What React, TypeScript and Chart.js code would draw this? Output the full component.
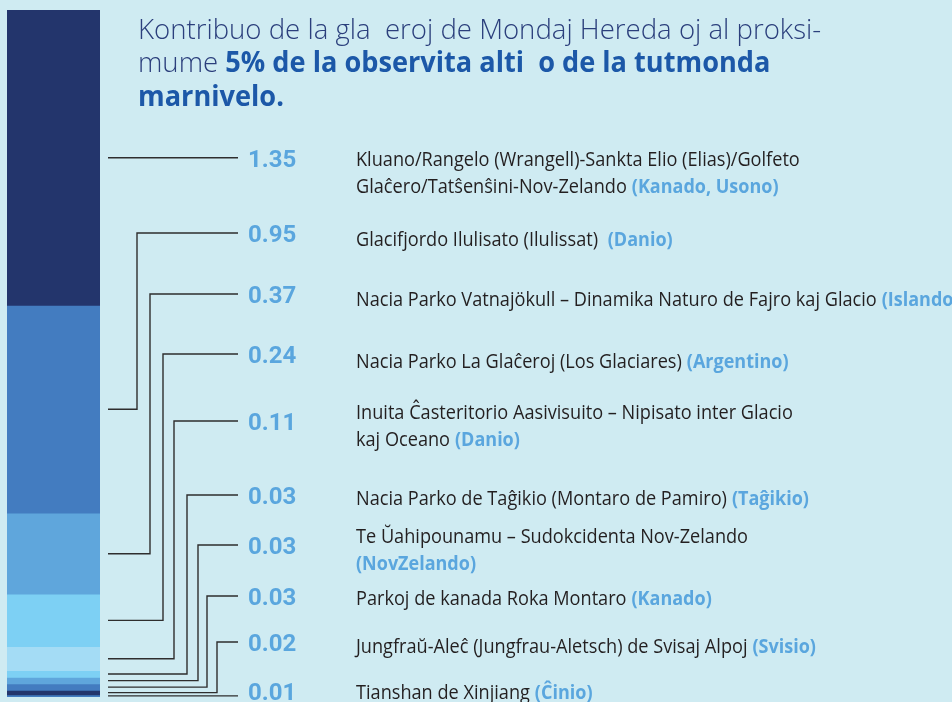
import { useEffect, useRef } from "react";
import { Chart, registerables } from "chart.js";

Chart.register(...registerables);

// ---- data ----
const values = [1.35, 0.95, 0.37, 0.24, 0.11, 0.03, 0.03, 0.03, 0.02, 0.01];
const siteNames: string[][] = [
  ["Kluano/Rangelo (Wrangell)-Sankta Elio (Elias)/Golfeto", "Glaĉero/Tatŝenŝini-Nov-Zelando"],
  ["Glacifjordo Ilulisato (Ilulissat) "],
  ["Nacia Parko Vatnajökull – Dinamika Naturo de Fajro kaj Glacio"],
  ["Nacia Parko La Glaĉeroj (Los Glaciares)"],
  ["Inuita Ĉasteritorio Aasivisuito – Nipisato inter Glacio", "kaj Oceano"],
  ["Nacia Parko de Taĝikio (Montaro de Pamiro)"],
  ["Te Ŭahipounamu – Sudokcidenta Nov-Zelando", ""],
  ["Parkoj de kanada Roka Montaro"],
  ["Jungfraŭ-Aleĉ (Jungfrau-Aletsch) de Svisaj Alpoj"],
  ["Tianshan de Xinjiang"],
];
const countries = [
  "(Kanado, Usono)",
  "(Danio)",
  "(Islando)",
  "(Argentino)",
  "(Danio)",
  "(Taĝikio)",
  "(NovZelando)",
  "(Kanado)",
  "(Svisio)",
  "(Ĉinio)",
];
const titleLines: { text: string; bold: boolean }[][] = [
  [{ text: "Kontribuo de la gla  eroj de Mondaj Hereda oj al proksi-", bold: false }],
  [
    { text: "mume ", bold: false },
    { text: "5% de la observita alti  o de la tutmonda", bold: true },
  ],
  [{ text: "marnivelo.", bold: true }],
];

// ---- styles / layout ----
const segColors = ["#23356c", "#437cc0", "#5fa6dc", "#7dd0f4", "#a4dcf5", "#7dd0f4", "#5fa6dc", "#437cc0", "#23356c", "#437cc0"];
const elbowX: (number | null)[] = [null, 137, 150, 163, 174, 187, 198, 207, 217, null];
const labelY: (number | null)[] = [null, 233, 294, 354, 421, 495, 545, 596, 642, null];
const textY = [166, 246, 306, 368, 419, 505, 543, 605, 653, 699];
const BG = "#cfebf2";
const NUM_COLOR = "#5aa6de";

function drawScaled(ctx: CanvasRenderingContext2D, text: string, x: number, y: number, font: string, color: string, sx: number) {
  ctx.save();
  ctx.font = font;
  const w = ctx.measureText(text).width * sx;
  ctx.translate(x, y);
  ctx.scale(sx, 1);
  ctx.fillStyle = color;
  ctx.textBaseline = "alphabetic";
  ctx.textAlign = "left";
  ctx.fillText(text, 0, 0);
  ctx.restore();
  return w;
}

const overlayPlugin = {
  id: "overlay",
  beforeDraw(chart: any) {
    const ctx = chart.ctx;
    ctx.save();
    ctx.fillStyle = BG;
    ctx.fillRect(0, 0, chart.width, chart.height);
    ctx.restore();
  },
  afterDatasetsDraw(chart: any) {
    const ctx: CanvasRenderingContext2D = chart.ctx;
    const area = chart.chartArea;
    const startX = area.right + 8;
    const endX = 238;
    const numX = 248;
    const textX = 356;

    // title
    const titleX = 138;
    const titleBase = [38.5, 72, 106];
    titleLines.forEach((parts, li) => {
      let x = titleX;
      parts.forEach((p) => {
        const font = p.bold ? "700 28px 'Open Sans'" : "300 28px 'Open Sans'";
        const color = p.bold ? "#1c58a8" : "#2b3f7c";
        x += drawScaled(ctx, p.text, x, titleBase[li], font, color, p.bold ? 0.97 : 0.985);
      });
    });

    values.forEach((v, i) => {
      const meta = chart.getDatasetMeta(i);
      const bar: any = meta.data[0];
      const mid = (bar.y + bar.base) / 2;
      const ex = elbowX[i];
      const ly = labelY[i] ?? mid;
      ctx.save();
      ctx.strokeStyle = "#2e2e2e";
      ctx.lineWidth = 1.4;
      ctx.beginPath();
      ctx.moveTo(startX, mid);
      if (ex !== null) {
        ctx.lineTo(ex, mid);
        ctx.lineTo(ex, ly);
      }
      ctx.lineTo(endX, ly);
      ctx.stroke();
      ctx.restore();

      drawScaled(ctx, v.toFixed(2), numX, Math.min(ly + 9, 700), "700 24px Roboto", NUM_COLOR, 1);

      const lines = siteNames[i];
      lines.forEach((ln, k) => {
        const y = textY[i] + k * 26.5;
        const w = drawScaled(ctx, ln, textX, y, "400 20px 'Open Sans'", "#231f20", 0.907);
        if (k === lines.length - 1) {
          const x = textX + w + (ln.length ? 5 : 0);
          drawScaled(ctx, countries[i], x, y, "700 20px 'Open Sans'", NUM_COLOR, 0.9);
        }
      });
    });
  },
};

export default function App() {
  const ref = useRef<HTMLCanvasElement | null>(null);
  useEffect(() => {
    document.body.style.margin = "0";
    document.body.style.background = BG;
    const total = values.reduce((a, b) => a + b, 0);
    const chart = new Chart(ref.current!, {
      type: "bar",
      data: {
        labels: ["total"],
        datasets: values.map((v, i) => ({
          label: countries[i],
          data: [v],
          backgroundColor: segColors[i],
          borderWidth: 0,
          barPercentage: 1,
          categoryPercentage: 1,
        })),
      },
      options: {
        responsive: false,
        animation: false,
        layout: { padding: { left: 7, right: 852, top: 10, bottom: 5 } },
        plugins: { legend: { display: false }, tooltip: { enabled: false }, title: { display: false } },
        scales: {
          x: { stacked: true, display: false },
          y: { stacked: true, display: false, reverse: true, min: 0, max: total },
        },
      },
      plugins: [overlayPlugin],
    });
    return () => chart.destroy();
  }, []);
  return (
    <div style={{ position: "absolute", left: 0, top: 0, width: 952, height: 702 }}>
      <canvas ref={ref} width={952} height={702} style={{ display: "block" }} />
    </div>
  );
}
